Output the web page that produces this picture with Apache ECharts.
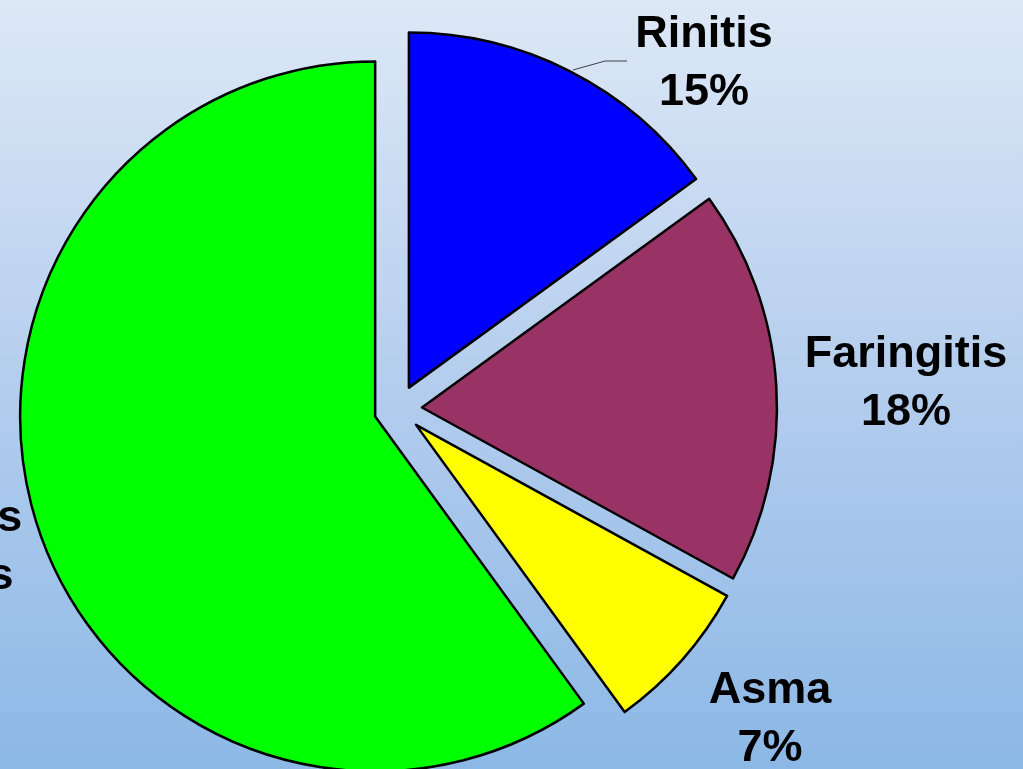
<!DOCTYPE html>
<html>
<head>
<meta charset="utf-8">
<script src="https://cdn.jsdelivr.net/npm/echarts@6/dist/echarts.min.js"></script>
<style>
html,body{margin:0;padding:0;width:1023px;height:769px;overflow:hidden;}
#chart{width:1023px;height:769px;}
</style>
</head>
<body>
<div id="chart"></div>
<script>
const categories = ['Rinitis', 'Faringitis', 'Asma', 'Amigdalitis\nBronquitis'];
const values = [15, 18, 7, 60];
const colors = ['#0000ff', '#993366', '#ffff00', '#00ff00'];

const labelPos = [[704, 64], [906, 384], [770, 720], [-99, 577]];
const rinitisLine = [[573, 70], [605, 61], [627, 61]];

const chart = echarts.init(document.getElementById('chart'));
const total = values.reduce((a, b) => a + b, 0);

const labelGraphics = categories.map((c, i) => ({
  type: 'text',
  z: 100,
  style: {
    text: c + '\n' + Math.round(values[i] / total * 100) + '%',
    x: labelPos[i][0],
    y: labelPos[i][1],
    align: 'center',
    verticalAlign: 'middle',
    font: 'bold 45px "Liberation Sans", Arial, sans-serif',
    lineHeight: 58,
    fill: '#000'
  }
}));
labelGraphics.push({
  type: 'polyline',
  z: 99,
  shape: {points: rinitisLine},
  style: {stroke: '#404040', lineWidth: 1, fill: null}
});

chart.setOption({
  backgroundColor: {
    type: 'linear', x: 0, y: 0, x2: 0, y2: 1,
    colorStops: [
      {offset: 0, color: '#dde8f6'},
      {offset: 0.5, color: '#b4cdee'},
      {offset: 1, color: '#8cb8e6'}
    ]
  },
  animation: false,
  graphic: labelGraphics,
  series: [{
    type: 'pie',
    center: [398, 409],
    radius: [0, 355],
    startAngle: 90,
    clockwise: true,
    selectedMode: 'multiple',
    selectedOffset: 24,
    itemStyle: {borderColor: '#000', borderWidth: 2.5},
    emphasis: {disabled: true},
    select: {itemStyle: {borderColor: '#000', borderWidth: 2.5}},
    label: {show: false},
    labelLine: {show: false},
    data: categories.map((c, i) => ({
      name: c,
      value: values[i],
      selected: true,
      itemStyle: {color: colors[i]}
    }))
  }]
});
</script>
</body>
</html>
